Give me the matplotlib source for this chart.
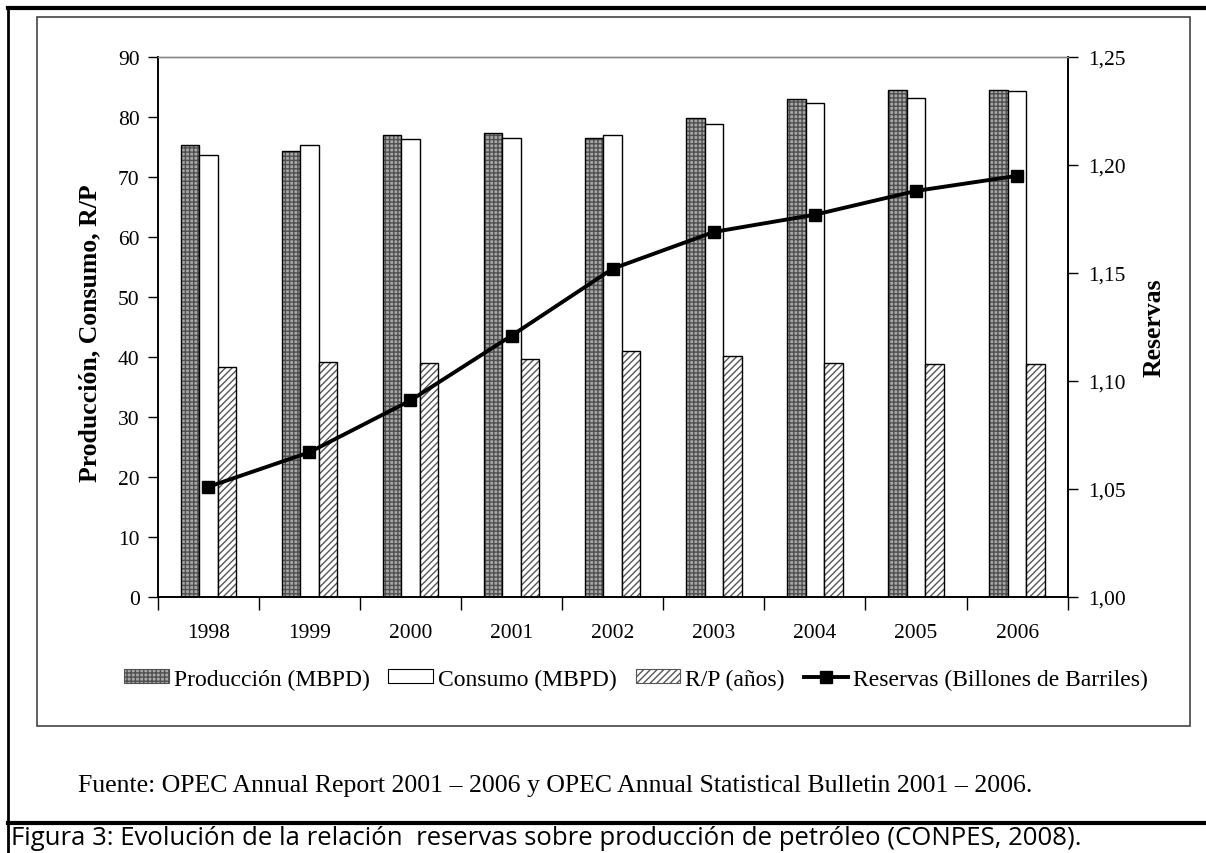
import numpy as np
import matplotlib
matplotlib.use("Agg")
import matplotlib.pyplot as plt
from matplotlib.lines import Line2D
from matplotlib.patches import Rectangle, Patch

# --- data ---
years = ["1998", "1999", "2000", "2001", "2002", "2003", "2004", "2005", "2006"]
produccion = [75.3, 74.3, 77.0, 77.3, 76.5, 79.8, 83.0, 84.5, 84.5]
consumo = [73.7, 75.3, 76.3, 76.5, 77.0, 78.8, 82.3, 83.2, 84.4]
rp_anios = [38.3, 39.2, 39.0, 39.7, 41.0, 40.2, 39.0, 38.8, 38.8]
reservas = [1.051, 1.067, 1.091, 1.121, 1.152, 1.169, 1.177, 1.188, 1.195]

left_ticks = [0, 10, 20, 30, 40, 50, 60, 70, 80, 90]
right_ticks = [1.00, 1.05, 1.10, 1.15, 1.20, 1.25]

SERIF = "Liberation Serif"
W, H = 1206, 854

def fx(px):
    return px / W

def fy(py):
    return 1 - py / H

fig = plt.figure(figsize=(W / 100, H / 100), dpi=100)
ax = fig.add_axes([fx(157.7), fy(598), fx(1067.7) - fx(157.7), fy(58) - fy(598)])
ax2 = ax.twinx()

x = np.arange(len(years))
bw = 0.183

# Producción: grey checkered bars
ax.bar(x - bw, produccion, bw, color="#a8a8a8", edgecolor="#505050", hatch="++++", linewidth=0)
ax.bar(x - bw, produccion, bw, fill=False, edgecolor="black", linewidth=1.0)
# Consumo: white
ax.bar(x, consumo, bw, color="white", edgecolor="black", linewidth=1.0)
# R/P: diagonal hatch
ax.bar(x + bw, rp_anios, bw, color="white", edgecolor="#555555", hatch="/////", linewidth=0)
ax.bar(x + bw, rp_anios, bw, fill=False, edgecolor="black", linewidth=1.0)

ax2.plot(x, reservas, color="black", linewidth=2.8, marker="s", markersize=9, zorder=5)

ax.set_xlim(-0.5, len(years) - 0.5)
ax.set_ylim(0, 90)
ax2.set_ylim(1.00, 1.25)

ax.set_yticks(left_ticks)
ax.set_yticklabels([str(t) for t in left_ticks], fontfamily=SERIF, fontsize=15.5)
ax2.set_yticks(right_ticks)
ax2.set_yticklabels([f"{t:.2f}".replace(".", ",") for t in right_ticks], fontfamily=SERIF, fontsize=15.5)

# x ticks at category boundaries, labels at centres
ax.set_xticks(np.arange(-0.5, len(years), 1.0))
ax.set_xticklabels([])
ax.set_xticks(x, minor=True)
ax.set_xticklabels(years, minor=True, fontfamily=SERIF, fontsize=15.5)
ax.tick_params(axis="x", which="minor", length=0, pad=19)
ax.tick_params(axis="x", which="major", length=9, width=1.0, direction="out")
ax.tick_params(axis="y", length=7, width=1.0, direction="out", pad=6)
ax2.tick_params(axis="y", length=7, width=1.0, direction="out", pad=8)

for a in (ax, ax2):
    a.spines["top"].set_color("#888888")
    a.spines["top"].set_linewidth(1.0)
    a.spines["left"].set_linewidth(1.2)
    a.spines["right"].set_linewidth(1.2)
    a.spines["bottom"].set_linewidth(1.2)

ax.set_ylabel("Producción, Consumo, R/P", fontfamily=SERIF, fontsize=18.5,
              fontweight="bold", labelpad=12)
ax.yaxis.set_label_coords(-0.062, 0.49)
ax2.set_ylabel("Reservas", fontfamily=SERIF, fontsize=18.5, fontweight="bold", labelpad=12)

handles = [
    Patch(facecolor="#a8a8a8", edgecolor="#505050", hatch="++++", linewidth=0.8),
    Patch(facecolor="white", edgecolor="black", linewidth=0.8),
    Patch(facecolor="white", edgecolor="#555555", hatch="/////", linewidth=0.8),
    Line2D([0], [0], color="black", linewidth=2.8, marker="s", markersize=8),
]
labels = ["Producción (MBPD)", "Consumo (MBPD)", "R/P (años)", "Reservas (Billones de Barriles)"]
fig.legend(handles, labels, loc="center", bbox_to_anchor=(fx(636), fy(680)), ncol=4,
           frameon=False, prop={"family": SERIF, "size": 17}, handlelength=1.9,
           handleheight=0.5, handletextpad=0.2, columnspacing=0.8)

# frames
fig.add_artist(Rectangle((fx(37), fy(727)), fx(1190) - fx(37), fy(18) - fy(727),
                         fill=False, edgecolor="#444444", linewidth=1.2))
fig.add_artist(Line2D([fx(8), 1], [fy(9), fy(9)], color="black", linewidth=3))
fig.add_artist(Line2D([fx(8), fx(8)], [0, fy(9)], color="black", linewidth=2))
fig.add_artist(Line2D([fx(8), 1], [fy(824), fy(824)], color="black", linewidth=3))

fig.text(fx(78), fy(786), "Fuente: OPEC Annual Report 2001 – 2006 y OPEC Annual Statistical Bulletin 2001 – 2006.",
         fontfamily=SERIF, fontsize=18.5, va="center", ha="left")
fig.text(fx(11), fy(839), "Figura 3: Evolución de la relación  reservas sobre producción de petróleo (CONPES, 2008).",
         fontfamily="Open Sans", fontsize=18.5, va="center", ha="left")

fig.savefig("out.png", dpi=100)
